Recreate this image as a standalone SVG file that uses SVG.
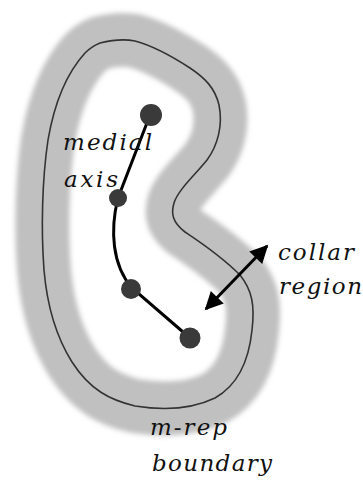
<svg xmlns="http://www.w3.org/2000/svg" width="363" height="483" viewBox="0 0 363 483">
<style>
.lbl{font-family:"DejaVu Serif","Liberation Serif",serif;font-style:italic;font-size:23px;fill:#111;}
.node{fill:#3a3a3a;}
</style>
<defs>
<filter id="blur" x="-20%" y="-20%" width="140%" height="140%"><feGaussianBlur stdDeviation="2.5"/></filter>
<marker id="ah" viewBox="0 0 10 10" refX="9" refY="5" markerWidth="7" markerHeight="6" orient="auto-start-reverse" markerUnits="strokeWidth"><path d="M0,0 L10,5 L0,10 Z" fill="#000"/></marker>
</defs>
<rect width="363" height="483" fill="#fff"/>
<g id="collar">
<path d="M100,43 C112,40 125,39 135,41 C150,45 170,55 190,68 C205,78 215,88 219,105 C223,125 218,145 207,160 C195,175 178,190 174,203 C171,213 172,222 185,232 C200,242 220,255 240,275 C252,290 255,305 252,330 C249,360 238,385 215,398 C190,410 160,410 135,406 C110,400 90,390 72,362 C55,335 47,305 44,270 C41,230 42,180 48,140 C54,105 65,75 85,53 C90,48 95,45 100,43 Z" fill="none" stroke="#c0c0c0" stroke-width="54" stroke-linejoin="round" filter="url(#blur)"/>
</g>
<g id="boundary">
<path d="M100,43 C112,40 125,39 135,41 C150,45 170,55 190,68 C205,78 215,88 219,105 C223,125 218,145 207,160 C195,175 178,190 174,203 C171,213 172,222 185,232 C200,242 220,255 240,275 C252,290 255,305 252,330 C249,360 238,385 215,398 C190,410 160,410 135,406 C110,400 90,390 72,362 C55,335 47,305 44,270 C41,230 42,180 48,140 C54,105 65,75 85,53 C90,48 95,45 100,43 Z" fill="none" stroke="#333" stroke-width="1.6"/>
</g>
<g id="connectors">
<path d="M150,115 L118,198 C110,230 112,265 132,288 L190,338" fill="none" stroke="#000" stroke-width="3"/>
<line x1="206" y1="309" x2="267" y2="246" stroke="#000" stroke-width="3" marker-start="url(#ah)" marker-end="url(#ah)"/>
</g>
<g id="atoms">
<circle id="atom1" class="node" cx="151" cy="115" r="11"/>
<circle id="atom2" class="node" cx="118" cy="198" r="9"/>
<circle id="atom3" class="node" cx="131" cy="289" r="10"/>
<circle id="atom4" class="node" cx="190" cy="338" r="10.5"/>
</g>
<g id="labels">
<text class="lbl" x="63" y="150" textLength="89" lengthAdjust="spacing">medial</text>
<text class="lbl" x="64" y="187" textLength="54" lengthAdjust="spacing">axis</text>
<text class="lbl" x="278" y="260" textLength="76" lengthAdjust="spacing">collar</text>
<text class="lbl" x="279" y="294" textLength="83" lengthAdjust="spacing">region</text>
<text class="lbl" x="150" y="435" textLength="77" lengthAdjust="spacing">m-rep</text>
<text class="lbl" x="152" y="471" textLength="120" lengthAdjust="spacing">boundary</text>
</g>
</svg>
